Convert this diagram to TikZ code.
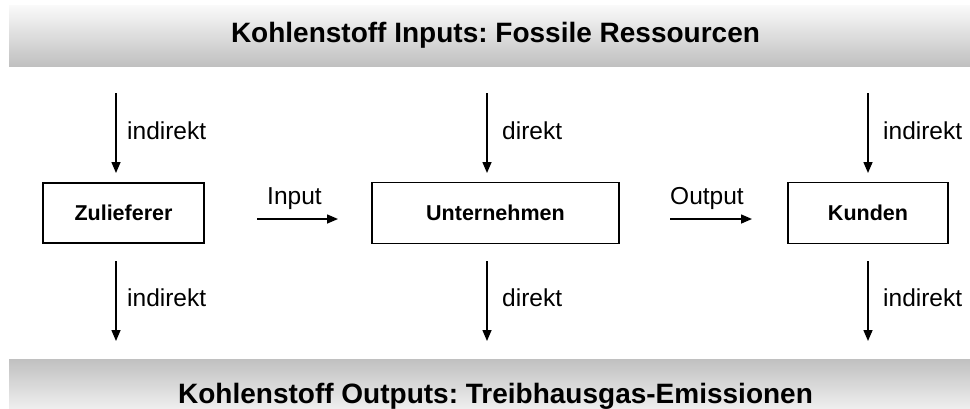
\documentclass[tikz,border=0pt]{standalone}
\usepackage{fontspec}
\setmainfont{Liberation Sans}
\usetikzlibrary{arrows.meta}
\frenchspacing
\definecolor{barlight}{HTML}{FAFAFA}
\definecolor{barlightb}{HTML}{EEEEEE}
\definecolor{bardark}{HTML}{C0C0C0}
\begin{document}
\begin{tikzpicture}[x=1pt,y=-1pt,
  bar/.style={inner sep=0pt, outer sep=0pt, minimum width=961pt, anchor=north west},
  titletext/.style={font=\bfseries\fontsize{28}{30}\selectfont, anchor=base, inner sep=0pt},
  box/.style={draw, line width=1.5pt, inner sep=0pt, font=\bfseries\fontsize{21.5}{24}\selectfont},
  lbl/.style={font=\fontsize{24.5}{27}\selectfont, anchor=base west, inner sep=0pt},
  arr/.style={line width=1.5pt, -{Triangle[length=11pt,width=9pt]}}]
\useasboundingbox (0,0) rectangle (970,408);
% bars
\node[bar, minimum height=61pt, top color=barlight, bottom color=bardark] (topbar) at (9,5) {};
\node[bar, minimum height=49pt, top color=bardark, bottom color=barlightb] (botbar) at (9,359) {};
\node[titletext] (toptitle) at (495.5,42) {Kohlenstoff Inputs: Fossile Ressourcen};
\node[titletext] (bottitle) at (495.5,403) {Kohlenstoff Outputs: Treibhausgas-Emissionen};
% boxes
\node[box, minimum width=161pt, minimum height=60pt] (zul) at (123.5,213) {Zulieferer};
\node[box, minimum width=247pt, minimum height=61pt] (unt) at (495.5,213) {Unternehmen};
\node[box, minimum width=160pt, minimum height=61pt] (kun) at (868,213) {Kunden};
% arrow end points
\coordinate (a1s) at (116,93);  \coordinate (a1e) at (116,173);
\coordinate (a2s) at (116,261); \coordinate (a2e) at (116,341);
\coordinate (b1s) at (487,93);  \coordinate (b1e) at (487,173);
\coordinate (b2s) at (487,261); \coordinate (b2e) at (487,341);
\coordinate (c1s) at (868,93);  \coordinate (c1e) at (868,173);
\coordinate (c2s) at (868,261); \coordinate (c2e) at (868,341);
\coordinate (ins) at (257,219); \coordinate (ine) at (338,219);
\coordinate (outs) at (670,219); \coordinate (oute) at (752,219);
\draw[arr] (a1s) -- (a1e);
\draw[arr] (a2s) -- (a2e);
\draw[arr] (b1s) -- (b1e);
\draw[arr] (b2s) -- (b2e);
\draw[arr] (c1s) -- (c1e);
\draw[arr] (c2s) -- (c2e);
\draw[arr] (ins) -- (ine);
\draw[arr] (outs) -- (oute);
% labels
\node[lbl] (la1) at (127,139) {indirekt};
\node[lbl] (la2) at (127,306) {indirekt};
\node[lbl] (lb1) at (502,139) {direkt};
\node[lbl] (lb2) at (502,306) {direkt};
\node[lbl] (lc1) at (883,139) {indirekt};
\node[lbl] (lc2) at (883,306) {indirekt};
\node[lbl] (lin) at (267,204) {Input};
\node[lbl] (lout) at (670,204) {Output};
\end{tikzpicture}
\end{document}
